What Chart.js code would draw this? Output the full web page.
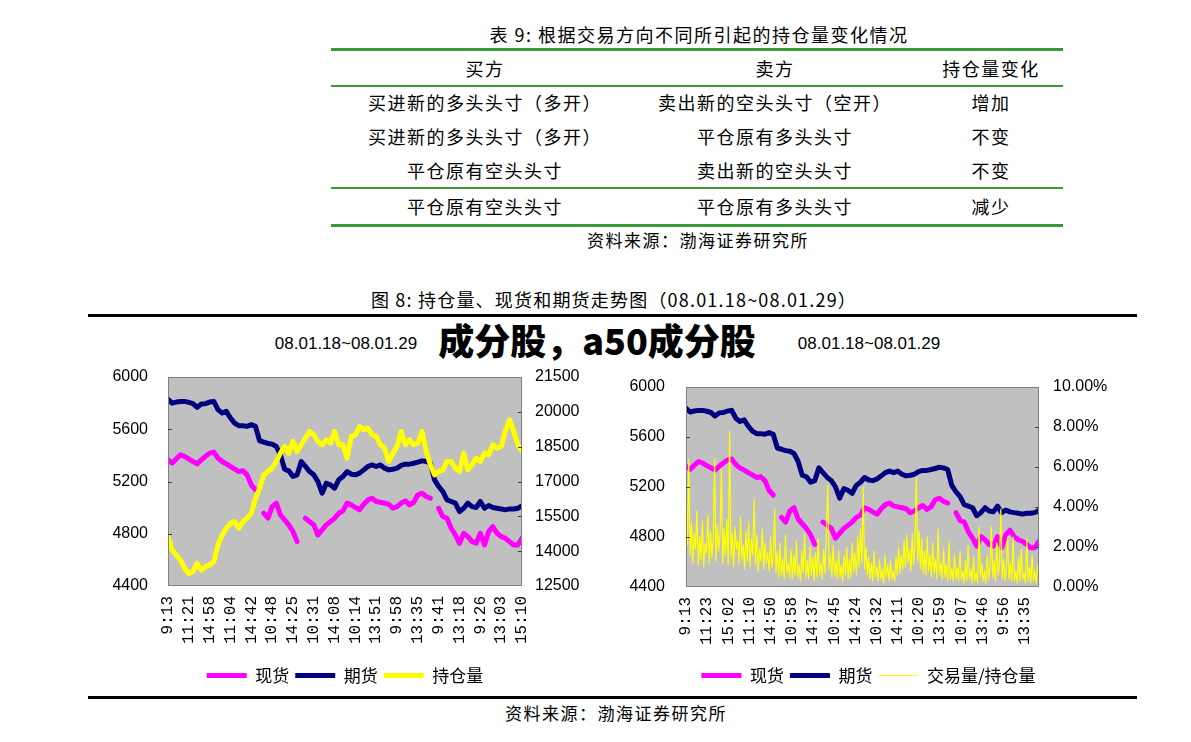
<!DOCTYPE html>
<html><head><meta charset="utf-8">
<script src="https://cdn.jsdelivr.net/npm/chart.js@4.4.1/dist/chart.umd.min.js"></script>
<style>
html,body{margin:0;padding:0;}
body{width:1191px;height:742px;background:#fff;position:relative;overflow:hidden;font-family:"Noto Sans CJK SC",sans-serif;color:#000;}
.t{position:absolute;white-space:nowrap;transform:translate(-50%,-50%);line-height:1.2;}
.cjk{font-size:18px;letter-spacing:1.5px;}
.rule{position:absolute;}
.box{position:absolute;}
</style></head><body>
<div id="page"></div>
<div class="box" id="b1" style="left:90px;top:362px;width:510px;height:332px;"><canvas id="c1"></canvas></div>
<div class="box" id="b2" style="left:600px;top:367px;width:537px;height:327px;"><canvas id="c2"></canvas></div>
<script>
// ---------- table content ----------
const tableTitle = "表 9: 根据交易方向不同所引起的持仓量变化情况";
const tableHeaders = ["买方", "卖方", "持仓量变化"];
const tableRows = [
  ["买进新的多头头寸（多开）", "卖出新的空头头寸（空开）", "增加"],
  ["买进新的多头头寸（多开）", "平仓原有多头头寸", "不变"],
  ["平仓原有空头头寸", "卖出新的空头头寸", "不变"],
  ["平仓原有空头头寸", "平仓原有多头头寸", "减少"]
];
const sourceText = "资料来源：渤海证券研究所";
const figureTitle = "图 8: 持仓量、现货和期货走势图（08.01.18~08.01.29）";
const chartSubtitle = "08.01.18~08.01.29";
const overlayText = "成分股，a50成分股";

// ---------- chart data ----------
const leftTickLabels = ["9:13","11:21","14:58","11:04","14:42","10:48","14:25","10:31","14:08","10:14","13:51","9:58","13:35","9:41","13:18","9:26","13:03","15:10"];
const rightTickLabels = ["9:13","11:23","15:02","11:10","14:50","10:58","14:37","10:45","14:24","10:32","14:11","10:20","13:59","10:07","13:46","9:56","13:35"];
const seriesNamesLeft = ["现货", "期货", "持仓量"];
const seriesNamesRight = ["现货", "期货", "交易量/持仓量"];

const spotPrice = [5366,5341,5374,5404,5392,5371,5353,5335,5366,5392,
 5417,5425,5379,5353,5335,5315,5297,5276,5282,5251,
 5174,5136,null,4957,4919,5008,5034,4944,4906,4868,
 4817,4740,null,4919,4893,4868,4791,4829,4868,4893,
 4919,4957,4975,5034,5021,5001,4983,5026,5059,5072,
 5047,5041,5034,5026,4995,5008,5034,5052,5021,5041,
 5098,5110,5085,5072,null,4995,4932,4919,4842,4791,
 4727,4804,4778,4740,4727,4804,4714,4817,4855,4804,
 4778,4766,4740,4714,4714,4766];
const futuresPrice = [5830,5800,5808,5813,5813,5806,5796,5767,5793,5796,
 5808,5813,5750,5724,5737,5686,5647,5627,5627,5622,
 5635,5622,5512,5502,5491,5486,5468,5404,5294,5282,
 5238,5251,5353,5315,5276,5251,5200,5110,5187,5174,
 5149,5213,5238,5276,5256,5251,5264,5289,5315,5327,
 5315,5327,5302,5289,5294,5302,5323,5333,5333,5340,
 5348,5358,5353,5340,5213,5162,5123,5059,5047,5034,
 4970,4995,5034,5008,5001,5047,4995,5016,5001,4995,
 4990,4983,4990,4990,4995,5013];
const openInterest = [14626,14051,13835,13620,13260,13044,13116,13476,13188,13332,
 13404,13548,14267,14698,14986,15201,15273,14986,15273,15417,
 15633,16280,16711,17287,17430,17574,17862,18221,18509,18221,
 18725,18293,18581,18869,19156,19012,18725,18581,18797,18653,
 19156,18581,18581,18006,18941,19012,19372,19228,19300,19012,
 18941,18581,18437,17862,18221,18509,19156,18581,18797,18581,
 18653,19156,18293,17718,17287,17430,17502,17862,17862,17574,
 17430,18221,17502,17718,18006,17862,18221,18149,18581,18437,
 18509,19156,19659,19156,18581,18293];
const volumeOiRatio = [
 4.3,2.1,6.4,1.6,3.2,1.2,2.7,1.9,3.8,1.1,2.5,1.4,3.3,1.0,2.2,1.7,3.6,1.2,2.8,1.5,
 2.4,6.4,1.3,3.1,1.8,2.6,5.9,1.2,2.9,1.6,3.4,1.1,7.8,1.5,2.7,1.0,3.0,1.9,2.3,1.2,
 3.5,1.4,2.1,0.9,2.8,1.3,3.2,1.0,2.4,1.6,4.4,1.1,2.6,0.8,1.9,1.3,2.9,0.9,2.2,1.2,
 1.7,0.8,2.5,1.0,1.5,3.9,0.7,1.8,0.5,2.2,0.6,1.4,0.4,2.6,0.7,1.2,0.5,1.9,0.4,1.6,
 0.6,2.3,0.5,1.1,0.3,1.8,0.7,2.7,0.5,1.3,0.4,2.0,0.6,1.5,0.3,1.7,0.5,2.4,0.6,1.2,
 0.4,1.9,0.7,2.8,5.1,0.9,1.6,0.5,2.1,0.6,1.3,0.4,1.8,0.5,1.1,0.3,1.6,0.6,2.0,0.4,
 1.4,0.5,2.2,0.8,1.7,0.6,2.5,1.0,2.9,1.2,5.0,0.9,2.0,0.6,1.5,0.4,1.2,0.3,1.8,0.5,
 1.0,0.3,1.4,0.4,0.9,0.2,1.6,0.5,1.1,0.3,1.3,0.4,0.8,0.3,1.5,0.6,2.0,0.7,1.6,0.9,
 2.3,1.0,2.6,1.2,1.9,0.8,2.7,1.1,2.2,5.5,1.3,2.8,0.9,2.4,0.7,1.8,0.6,2.5,0.8,1.6,
 0.5,2.2,0.7,1.4,0.4,2.9,0.6,1.2,0.4,1.9,0.5,1.1,0.3,2.3,0.4,0.9,0.3,1.6,0.4,1.0,
 0.3,1.8,0.4,0.8,0.2,1.3,0.3,2.1,0.4,0.9,0.2,1.5,0.3,0.7,0.2,3.0,0.5,1.2,0.3,0.8,
 0.2,1.6,0.4,1.0,3.0,0.5,1.3,0.3,2.2,0.6,1.1,3.9,0.4,1.4,0.3,0.9,2.5,0.4,1.2,0.3,
 2.5,0.3,0.8,0.2,1.5,0.3,1.9,0.4,0.7,0.2,2.4,0.3,1.0,0.2,1.6,0.3,0.8,0.2,1.1,0.5];

// ---------- static page text ----------
const page = document.getElementById('page');
function put(text, cx, cy, cls, style) {
  const d = document.createElement('div');
  d.className = 't ' + (cls || '');
  d.textContent = text;
  d.style.left = cx + 'px';
  d.style.top = cy + 'px';
  if (style) d.style.cssText += style;
  page.appendChild(d);
}
function rule(x1, x2, y, h, color) {
  const d = document.createElement('div');
  d.className = 'rule';
  d.style.cssText = `left:${x1}px;width:${x2 - x1}px;top:${y}px;height:${h}px;background:${color};`;
  page.appendChild(d);
}
const green = '#3a9a3a';
put(tableTitle, 699, 35, 'cjk');
rule(331, 1063, 48, 3, green);
const colCenters = [485, 775, 991];
tableHeaders.forEach((h, i) => put(h, colCenters[i], 69, 'cjk'));
rule(331, 1063, 85, 2, green);
const rowCenters = [103, 137, 171, 207];
tableRows.forEach((r, ri) => r.forEach((c, ci) => put(c, colCenters[ci], rowCenters[ri], 'cjk')));
rule(331, 1063, 187, 2, green);
rule(331, 1063, 224, 3, green);
put(sourceText, 698, 240, 'cjk', 'font-size:17px;');

put(figureTitle, 614, 300, 'cjk', 'font-size:18px;letter-spacing:1.2px;');
rule(88, 1137, 314, 3, '#000');
put(chartSubtitle, 346, 344, '', 'font-family:"Liberation Sans";font-size:17px;');
put(chartSubtitle, 869, 344, '', 'font-family:"Liberation Sans";font-size:17px;');
put(overlayText, 597, 340, '', 'font-size:36px;font-weight:900;');
rule(88, 1137, 696, 3, '#000');
put(sourceText, 616, 713, 'cjk', 'font-size:17px;');

// ---------- charts ----------
const plotFrame = {
  id: 'plotFrame',
  beforeDraw(chart) {
    const {ctx, chartArea: a} = chart;
    ctx.save();
    ctx.fillStyle = '#c0c0c0';
    ctx.fillRect(a.left, a.top, a.right - a.left, a.bottom - a.top);
    ctx.restore();
  },
  afterDraw(chart) {
    const {ctx, chartArea: a} = chart;
    ctx.save();
    ctx.strokeStyle = '#808080';
    ctx.lineWidth = 1;
    ctx.strokeRect(a.left + 0.5, a.top + 0.5, a.right - a.left - 1, a.bottom - a.top - 1);
    ctx.strokeStyle = '#404040';
    ['y', 'y1'].forEach(id => {
      const s = chart.scales[id];
      s.ticks.forEach(t => {
        const py = Math.round(s.getPixelForValue(t.value)) + 0.5;
        if (py <= a.top + 2 || py >= a.bottom - 2) return;
        ctx.beginPath();
        if (id === 'y') { ctx.moveTo(a.left, py); ctx.lineTo(a.left + 4, py); }
        else { ctx.moveTo(a.right - 4, py); ctx.lineTo(a.right, py); }
        ctx.stroke();
      });
    });
    ctx.restore();
  }
};

function pts(values, span) {
  const n = values.length;
  return values.map((v, i) => ({x: i * span / (n - 1), y: v}));
}
const tickFont = {family: 'Liberation Sans', size: 16};
const xFont = {family: 'Liberation Mono', size: 16};
function lineDs(label, values, span, color, width, axis, order) {
  return {
    label, data: pts(values, span), borderColor: color, backgroundColor: color,
    borderWidth: width, pointRadius: 0, tension: 0, spanGaps: false,
    borderJoinStyle: 'round', borderCapStyle: 'round', yAxisID: axis, order
  };
}
function hiddenGrid(len) {
  return {display: true, drawOnChartArea: false, drawTicks: true, tickLength: len, color: 'rgba(0,0,0,0)'};
}
function makeOptions(cfg) {
  return {
    responsive: true, maintainAspectRatio: false, animation: false,
    layout: {padding: {top: cfg.padTop, left: 0, right: 0, bottom: 0}},
    plugins: {
      tooltip: {enabled: false},
      legend: {
        position: 'bottom',
        labels: {
          color: '#000', font: {family: 'Noto Sans CJK SC', size: 17},
          usePointStyle: true, pointStyle: 'line', pointStyleWidth: 40, padding: 6,
          sort: (a, b) => a.datasetIndex - b.datasetIndex
        }
      }
    },
    scales: {
      x: {
        type: 'linear', min: 0, max: cfg.xMax,
        afterFit: s => { s.height = cfg.xHeight; },
        grid: hiddenGrid(10), border: {display: false},
        ticks: {
          stepSize: 1, includeBounds: false, autoSkip: false,
          minRotation: 90, maxRotation: 90, padding: 0,
          color: '#000', font: xFont,
          callback: v => Number.isInteger(v) && cfg.labels[v] !== undefined ? cfg.labels[v] : ''
        }
      },
      y: {
        position: 'left', min: 4400, max: 6000,
        afterFit: s => { s.width = cfg.yWidth; },
        grid: hiddenGrid(cfg.yPad), border: {display: false},
        ticks: {stepSize: 400, padding: 0, color: '#000', font: tickFont, callback: v => String(v)}
      },
      y1: {
        position: 'right', min: cfg.y1Min, max: cfg.y1Max,
        afterFit: s => { s.width = cfg.y1Width; },
        grid: hiddenGrid(cfg.y1Pad), border: {display: false},
        ticks: {stepSize: cfg.y1Step, padding: 0, color: '#000', font: tickFont, callback: cfg.y1Fmt}
      }
    }
  };
}

const leftSpan = leftTickLabels.length - 1;
new Chart(document.getElementById('c1'), {
  type: 'line',
  data: {datasets: [
    lineDs(seriesNamesLeft[0], spotPrice, leftSpan, '#ff00ff', 5, 'y', 3),
    lineDs(seriesNamesLeft[1], futuresPrice, leftSpan, '#000080', 5, 'y', 2),
    lineDs(seriesNamesLeft[2], openInterest, leftSpan, '#ffff00', 5, 'y1', 1)
  ]},
  options: makeOptions({
    padTop: 15, xMax: leftSpan, xHeight: 75, labels: leftTickLabels,
    yWidth: 78, yPad: 20, y1Width: 78, y1Pad: 13,
    y1Min: 12500, y1Max: 21500, y1Step: 1500, y1Fmt: v => String(v)
  }),
  plugins: [plotFrame]
});

const rightSpan = 16.66;
new Chart(document.getElementById('c2'), {
  type: 'line',
  data: {datasets: [
    lineDs(seriesNamesRight[0], spotPrice, rightSpan, '#ff00ff', 5, 'y', 3),
    lineDs(seriesNamesRight[1], futuresPrice, rightSpan, '#000080', 5, 'y', 2),
    lineDs(seriesNamesRight[2], volumeOiRatio, rightSpan, '#ffff00', 1.2, 'y1', 1)
  ]},
  options: makeOptions({
    padTop: 20, xMax: rightSpan, xHeight: 74, labels: rightTickLabels,
    yWidth: 86, yPad: 21, y1Width: 98, y1Pad: 14,
    y1Min: 0, y1Max: 10, y1Step: 2, y1Fmt: v => v.toFixed(2) + '%'
  }),
  plugins: [plotFrame]
});
</script>
</body></html>
